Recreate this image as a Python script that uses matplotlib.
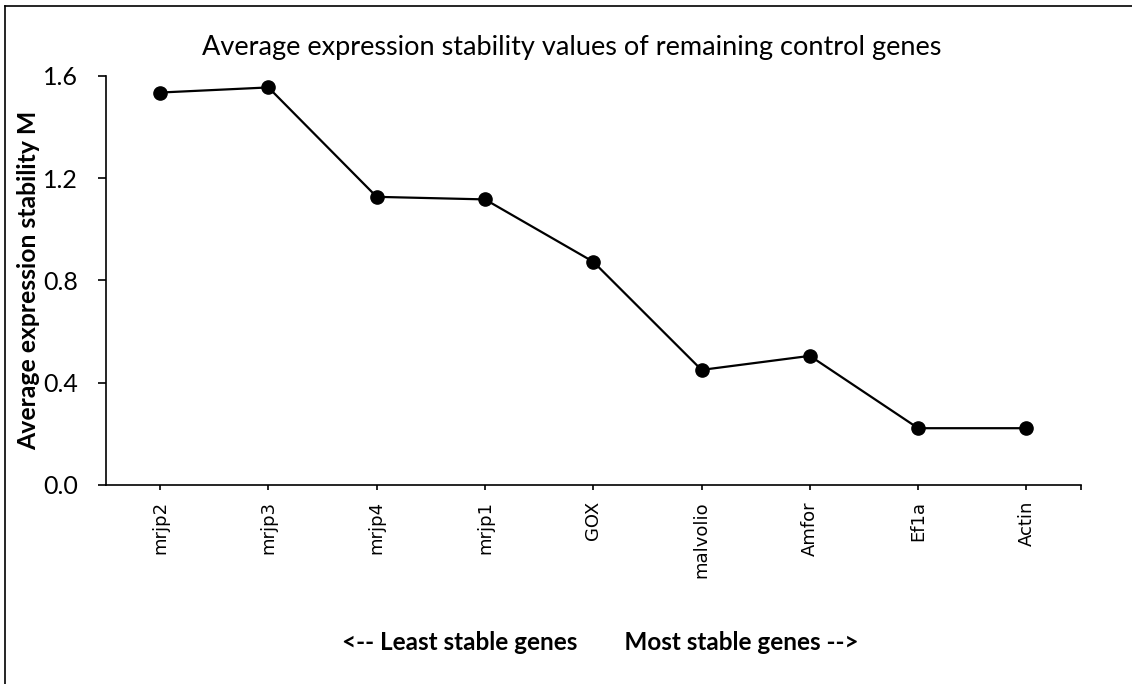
import matplotlib
matplotlib.use("Agg")
import matplotlib.pyplot as plt
from matplotlib.lines import Line2D

genes = ["mrjp2", "mrjp3", "mrjp4", "mrjp1", "GOX", "malvolio", "Amfor", "Ef1a", "Actin"]
m_values = [1.535, 1.555, 1.127, 1.117, 0.873, 0.450, 0.505, 0.222, 0.222]
y_ticks = [0.0, 0.4, 0.8, 1.2, 1.6]

fig = plt.figure(figsize=(11.32, 6.84), dpi=100)
ax = fig.add_axes([0.0936, 0.291, 0.861, 0.598])

x = list(range(len(genes)))
ax.plot(x, m_values, color="black", lw=1.6, marker="o", markersize=9.5)

ax.set_xlim(-0.5, len(genes) - 0.5)
ax.set_ylim(0, 1.6)
ax.set_yticks(y_ticks)
ax.set_yticklabels([f"{v:.1f}" for v in y_ticks], family="Lato", fontsize=18)
ax.set_xticks(x)
ax.set_xticklabels(genes, rotation=90, family="DejaVu Sans", fontsize=13)
ax.set_xticks([len(genes) - 0.5], minor=True)

for side in ["top", "right"]:
    ax.spines[side].set_visible(False)
for side in ["left", "bottom"]:
    ax.spines[side].set_linewidth(1.2)
ax.tick_params(axis="y", direction="out", length=6, width=1.2, pad=14)
ax.tick_params(axis="x", which="both", direction="out", length=3.6, width=1.2, pad=8)

fig.text(0.0256, 0.590, "Average expression stability M", rotation=90,
         ha="center", va="center", family="Lato", fontweight="bold", fontsize=17.8)
fig.text(0.505, 0.931, "Average expression stability values of remaining control genes",
         ha="center", va="center", family="Lato", fontsize=19.5)
fig.text(0.530, 0.06, "<-- Least stable genes        Most stable genes -->",
         ha="center", va="center", family="Lato", fontweight="bold", fontsize=17.5)

# outer chart border (left and top visible)
fig.add_artist(Line2D([0.0044, 0.0044], [0, 0.991], color="black", lw=1.2,
                      transform=fig.transFigure))
fig.add_artist(Line2D([0.0044, 1.0], [0.991, 0.991], color="black", lw=1.2,
                      transform=fig.transFigure))

fig.savefig("out.png", dpi=100)
